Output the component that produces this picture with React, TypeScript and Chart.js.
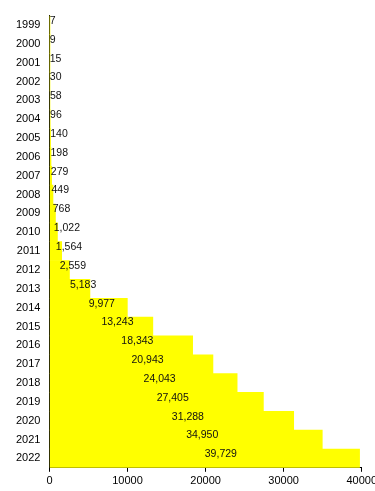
import React, { useEffect, useRef } from "react";
import { Chart, registerables } from "chart.js";

Chart.register(...registerables);

const years = ["1999","2000","2001","2002","2003","2004","2005","2006","2007","2008","2009","2010","2011","2012","2013","2014","2015","2016","2017","2018","2019","2020","2021","2022"];
const values = [7, 9, 15, 30, 58, 96, 140, 198, 279, 449, 768, 1022, 1564, 2559, 5183, 9977, 13243, 18343, 20943, 24043, 27405, 31288, 34950, 39729];
const xTicks = [0, 10000, 20000, 30000, 40000];

const labelPlugin = {
  id: "midLabels",
  afterDatasetsDraw(chart: any) {
    const ctx = chart.ctx;
    const meta = chart.getDatasetMeta(0);
    ctx.save();
    ctx.font = "10.5px 'Liberation Sans', Arial, sans-serif";
    ctx.fillStyle = "#111";
    ctx.textAlign = "left";
    ctx.textBaseline = "middle";
    meta.data.forEach((bar: any, i: number) => {
      const mid = (bar.x + bar.base) / 2;
      ctx.fillText(values[i].toLocaleString("en-US"), mid, bar.y - 4);
    });
    ctx.restore();
  },
};

export default function App() {
  const ref = useRef<HTMLCanvasElement>(null);
  useEffect(() => {
    const chart = new Chart(ref.current!, {
      type: "bar",
      data: {
        labels: years,
        datasets: [{ data: values, backgroundColor: "#ffff00", borderWidth: 0, categoryPercentage: 1, barPercentage: 1 }],
      },
      options: {
        indexAxis: "y",
        animation: false,
        responsive: false,
        maintainAspectRatio: false,
        layout: { padding: { left: 7, top: 11, right: 0, bottom: 0 } },
        plugins: { legend: { display: false }, tooltip: { enabled: false } },
        scales: {
          x: {
            min: 0,
            max: 40000,
            afterBuildTicks: (axis: any) => { axis.ticks = xTicks.map((v) => ({ value: v })); },
            grid: { display: true, drawOnChartArea: false, drawTicks: true, tickLength: 4, color: "#000" },
            border: { display: true, color: "#000" },
            ticks: { color: "#000", font: { family: "'Liberation Sans', Arial, sans-serif", size: 11 }, padding: 3, maxRotation: 0, callback: (v: any) => String(v) },
          },
          y: {
            grid: { display: true, drawOnChartArea: false, drawTicks: false, color: "#000" },
            border: { display: true, color: "#000" },
            ticks: { color: "#000", font: { family: "'Liberation Sans', Arial, sans-serif", size: 11 }, padding: 9, autoSkip: false },
          },
        },
      },
      plugins: [labelPlugin],
    } as any);
    return () => chart.destroy();
  }, []);
  return (
    <div style={{ position: "fixed", left: 0, top: 0, width: 375, height: 491, background: "#fff", overflow: "hidden" }}>
      <canvas ref={ref} width={380} height={491} style={{ width: 380, height: 491 }} />
    </div>
  );
}
